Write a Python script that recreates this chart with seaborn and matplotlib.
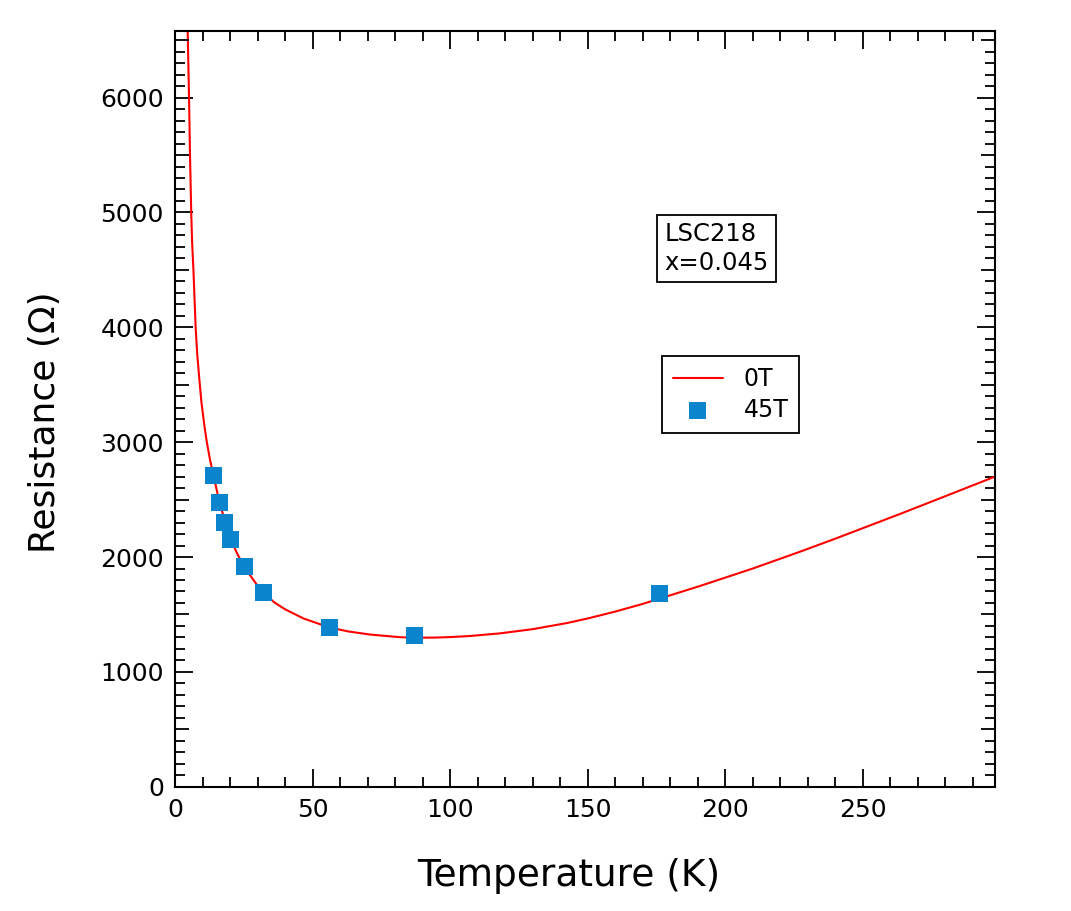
import numpy as np
import pandas as pd
import matplotlib
matplotlib.use('Agg')
import matplotlib.pyplot as plt
from matplotlib.ticker import MultipleLocator, FixedLocator, NullLocator
import seaborn as sns

# 0T curve
temp_0T = [4.5, 5.1, 5.45, 5.9, 6.2, 6.7, 7.5, 8.1, 8.8, 9.6, 10.7, 11.5, 12.7, 14.1,
           15.0, 16.0, 17.9, 20.0, 22.4, 25.1, 29.7, 32.1, 36.1, 40.0, 46.7, 56.0,
           63.0, 70.9, 81.8, 87.0, 95.0, 100.0, 107.0, 118.0, 130.0, 142.4, 150.0,
           160.0, 170.0, 176.0, 180.0, 190.8, 198.0, 210.0, 227.0, 240.0, 263.5,
           280.0, 298.0]
res_0T = [6700, 6000, 5500, 5000, 4750, 4500, 4000, 3760, 3560, 3350, 3140, 3010, 2850,
          2700, 2600, 2495, 2330, 2170, 2040, 1915, 1760, 1690, 1605, 1545, 1465, 1388,
          1352, 1325, 1302, 1297, 1299, 1303, 1312, 1335, 1372, 1425, 1465,
          1525, 1592, 1637, 1667, 1748, 1805, 1900, 2045, 2160, 2375,
          2530, 2700]

# 45T points
temp_45T = [14.1, 16.1, 18.1, 20.1, 25.1, 32.1, 56.1, 87.1, 176.0]
res_45T = [2707, 2472, 2298, 2153, 1918, 1689, 1384, 1314, 1683]

df0 = pd.DataFrame({'T': temp_0T, 'R': res_0T})
df45 = pd.DataFrame({'T': temp_45T, 'R': res_45T})

sns.set_style('white')
plt.rcParams['font.family'] = ['DejaVu Sans']
plt.rcParams['text.color'] = 'black'
plt.rcParams['axes.labelcolor'] = 'black'

fig = plt.figure(figsize=(10.71, 9.11), dpi=100)
rect = [0.1634, 0.1364, 0.7656, 0.8296]
ax = fig.add_axes(rect)

sns.lineplot(data=df0, x='T', y='R', ax=ax, color='#ff0000', linewidth=1.5,
             sort=False, estimator=None, label='0T')
sns.scatterplot(data=df45, x='T', y='R', ax=ax, color='#0a84cc', marker='s',
                s=150, edgecolor='none', label='45T', zorder=3)

ax.set_xlim(0, 298)
ax.set_ylim(0, 6580)

ax.set_xlabel('Temperature (K)', fontsize=27, color='black')
ax.set_ylabel('Resistance (Ω)', fontsize=26, color='black')
ax.xaxis.set_label_coords(0.48, -0.094)
ax.yaxis.set_label_coords(-0.138, 0.483)

ax.xaxis.set_major_locator(MultipleLocator(50))
ax.xaxis.set_minor_locator(MultipleLocator(10))
ax.yaxis.set_major_locator(MultipleLocator(1000))
minor_y = [v for v in range(100, 6600, 100) if v % 500 != 0]
ax.yaxis.set_minor_locator(FixedLocator(minor_y))

ax.tick_params(which='both', direction='in', top=True, right=True, bottom=True,
               left=True, width=1.3, colors='black', labelsize=18)
ax.tick_params(which='major', length=13, pad=8)
ax.tick_params(which='minor', length=7.2)

# medium ticks at the 500s on an overlay axes
ax2 = fig.add_axes(rect, frameon=False)
ax2.set_xlim(ax.get_xlim())
ax2.set_ylim(ax.get_ylim())
ax2.xaxis.set_major_locator(NullLocator())
ax2.xaxis.set_minor_locator(NullLocator())
ax2.yaxis.set_major_locator(FixedLocator([500, 1500, 2500, 3500, 4500, 5500, 6500]))
ax2.yaxis.set_minor_locator(NullLocator())
ax2.tick_params(axis='y', which='major', direction='in', left=True, right=True,
                length=10, width=1.3, color='black', labelleft=False, labelright=False)
ax2.patch.set_visible(False)

for s in ax.spines.values():
    s.set_visible(True)
    s.set_color('black')
    s.set_linewidth(1.5)

ax.text(0.597, 0.712, 'LSC218\nx=0.045', transform=ax.transAxes, fontsize=17.5,
        va='center', ha='left', linespacing=1.25, color='black',
        bbox=dict(boxstyle='square,pad=0.3', facecolor='white', edgecolor='black',
                  linewidth=1.3))

leg = ax.legend(loc='center', bbox_to_anchor=(0.678, 0.519), fontsize=17,
                frameon=True, fancybox=False, handlelength=2.1, handletextpad=0.9,
                borderpad=0.45, labelspacing=0.3, markerscale=1.0, borderaxespad=0,
                labelcolor='black')
leg.get_frame().set_edgecolor('black')
leg.get_frame().set_linewidth(1.3)
leg.get_frame().set_alpha(1)

fig.savefig('out.png', dpi=100)
